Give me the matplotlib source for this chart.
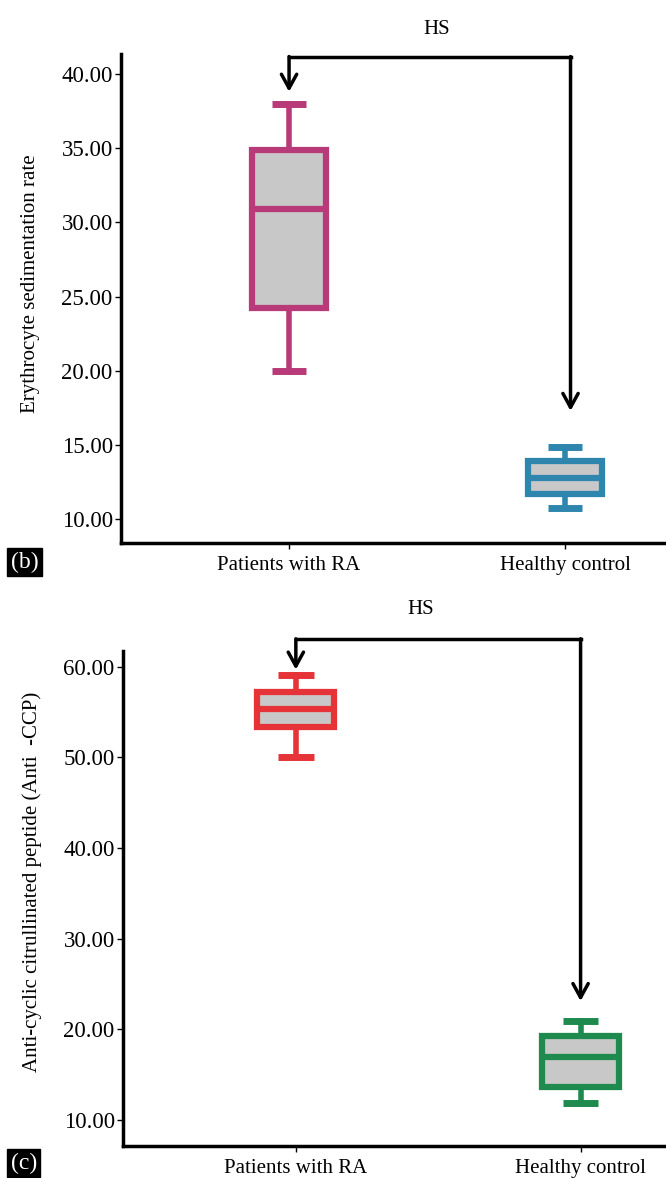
import matplotlib
matplotlib.use("Agg")
import matplotlib.pyplot as plt

plt.rcParams['font.family'] = ['Liberation Serif', 'DejaVu Serif']

groups = ['Patients with RA', 'Healthy control']

# ESR panel (b): whisker low, q1, median, q3, whisker high
esr_stats = [[20.0, 24.2, 30.9, 34.85, 38.0],
             [10.75, 11.7, 12.8, 13.9, 14.85]]
esr_colors = ['#B83A78', '#2E86AE']
esr_ticks = [10, 15, 20, 25, 30, 35, 40]

# Anti-CCP panel (c)
ccp_stats = [[50.0, 53.4, 55.3, 57.2, 59.1],
             [11.9, 13.6, 16.9, 19.2, 20.9]]
ccp_colors = ['#E53338', '#1E8A4E']
ccp_ticks = [10, 20, 30, 40, 50, 60]

fig = plt.figure(figsize=(6.66, 11.78), dpi=100)
ax1 = fig.add_axes([0.1817, 0.539, 0.8183, 0.4155])
ax2 = fig.add_axes([0.1847, 0.0268, 0.8153, 0.4209])


def draw_panel(ax, stats, cols, ticks, ylim, xlim, ylabel, ylab_y, bracket, hs_pos):
    bxp = []
    for s in stats:
        bxp.append(dict(whislo=s[0], q1=s[1], med=s[2], q3=s[3], whishi=s[4], fliers=[]))
    art = ax.bxp(bxp, positions=[1, 2], widths=0.27, capwidths=0.125,
                 patch_artist=True, showfliers=False)
    for i, c in enumerate(cols):
        art['boxes'][i].set(facecolor='#C8C8C8', edgecolor=c, linewidth=4.5)
        art['medians'][i].set(color=c, linewidth=4.5, solid_capstyle='butt')
        for j in (2 * i, 2 * i + 1):
            art['whiskers'][j].set(color=c, linewidth=4)
            art['caps'][j].set(color=c, linewidth=5, solid_capstyle='butt')
    ax.set_xlim(*xlim)
    ax.set_ylim(*ylim)
    ax.set_yticks(ticks)
    ax.set_yticklabels(['%.2f' % t for t in ticks], fontsize=16.5)
    ax.set_xticks([1, 2])
    ax.set_xticklabels(groups, fontsize=15)
    ax.set_ylabel(ylabel, fontsize=15)
    ax.yaxis.set_label_coords(-0.149, ylab_y)
    for sp in ['top', 'right']:
        ax.spines[sp].set_visible(False)
    for sp in ['left', 'bottom']:
        ax.spines[sp].set_linewidth(2.5)
    ax.tick_params(axis='both', length=4, width=1, pad=2)
    ax.tick_params(axis='x', pad=5)

    x1, x2, ytop, tip1, tip2 = bracket
    ax.plot([x1, x2], [ytop, ytop], color='black', lw=2.5, clip_on=False,
            solid_capstyle='projecting')
    for x, tip in [(x1, tip1), (x2, tip2)]:
        ax.annotate('', xy=(x, tip), xytext=(x, ytop),
                    arrowprops=dict(arrowstyle='->,head_length=1.0,head_width=0.55',
                                    color='black', lw=2.5, shrinkA=0, shrinkB=0),
                    annotation_clip=False)
    ax.text(hs_pos[0], hs_pos[1], 'HS', fontsize=15, ha='center', va='center',
            clip_on=False)


draw_panel(ax1, esr_stats, esr_colors, esr_ticks, (8.4, 41.37), (0.391, 2.366),
           'Erythrocyte sedimentation rate', 0.529,
           (1.0, 2.02, 41.17, 38.8, 17.3), (1.536, 42.96))
draw_panel(ax2, ccp_stats, ccp_colors, ccp_ticks, (7.05, 61.8), (0.393, 2.30),
           'Anti-cyclic citrullinated peptide (Anti  -CCP)', 0.533,
           (1.0, 2.0, 63.1, 59.7, 23.1), (1.44, 66.3))

for lab, yy in [('(b)', 1 - 562 / 1178), ('(c)', 1 - 1163 / 1178)]:
    fig.text(0.016, yy, lab, fontsize=17, color='white', va='center', ha='left',
             bbox=dict(facecolor='black', edgecolor='black', pad=2.5))

fig.savefig('out.png', dpi=100)
